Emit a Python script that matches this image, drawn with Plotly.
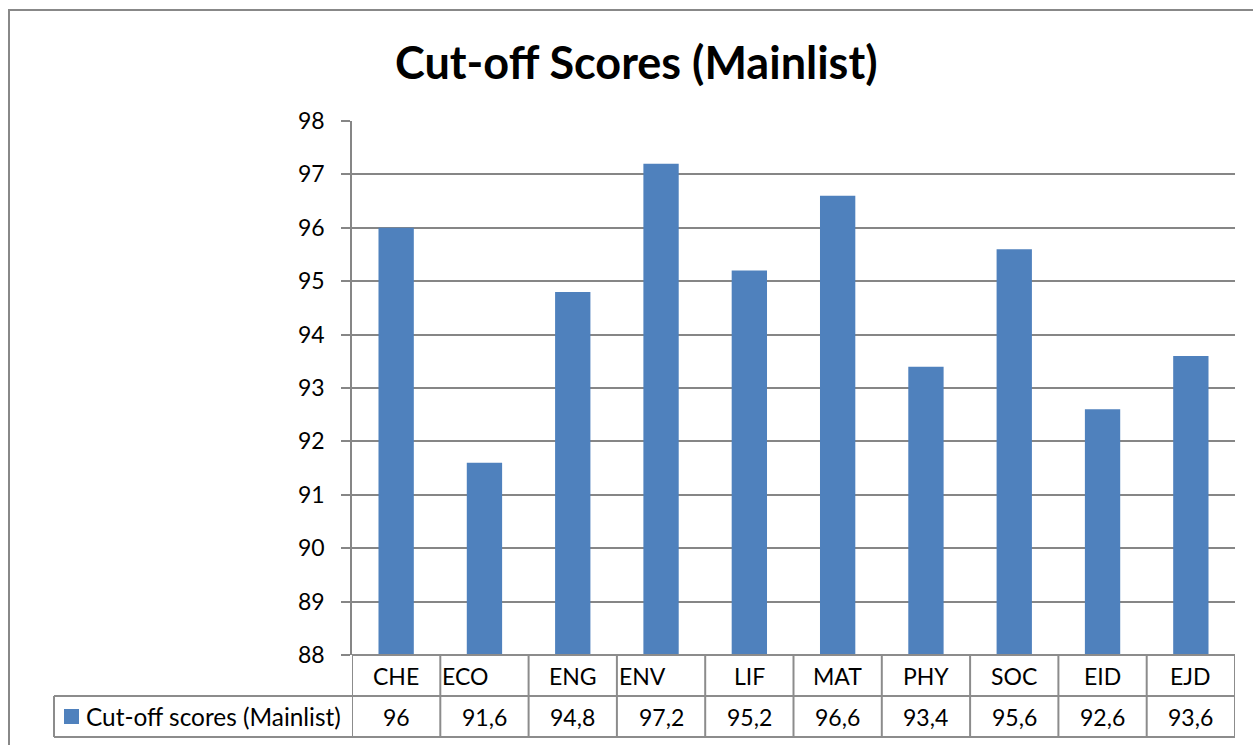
import plotly.graph_objects as go

categories = ["CHE", "ECO", "ENG", "ENV", "LIF", "MAT", "PHY", "SOC", "EID", "EJD"]
scores = [96, 91.6, 94.8, 97.2, 95.2, 96.6, 93.4, 95.6, 92.6, 93.6]
series_name = "Cut-off scores (Mainlist)"
title_text = "Cut-off Scores (Mainlist)"
y_ticks = list(range(88, 99))

W, H = 1253, 745
BAR = "#4F81BD"
GRID = "#868686"
TBL = "#8C8C8C"
FONT = "Lato, Carlito, Calibri, sans-serif"

def py(p):
    return 1 - p / H

x_left, x_right = 352, 1235
y_top, y_axis = 121, 655
row1_bot, row2_bot = 696, 737
tbl_left = 54

fig = go.Figure()
fig.add_trace(go.Bar(x=categories, y=scores, marker=dict(color=BAR, line=dict(width=0)),
                     width=0.4, name=series_name, showlegend=False))

shapes = []
# outer chart border
shapes.append(dict(type="rect", xref="paper", yref="paper", x0=9 / W, x1=1.02, y0=-0.05, y1=py(10),
                   line=dict(color="#888888", width=2), fillcolor="rgba(0,0,0,0)", layer="below"))
# table horizontal lines
shapes.append(dict(type="line", xref="paper", yref="paper", x0=x_left / W, x1=x_right / W,
                   y0=py(y_axis), y1=py(y_axis), line=dict(color=TBL, width=2)))
for yy in (row1_bot, row2_bot):
    shapes.append(dict(type="line", xref="paper", yref="paper", x0=tbl_left / W, x1=x_right / W,
                       y0=py(yy), y1=py(yy), line=dict(color=TBL, width=2)))
# left border of value row
shapes.append(dict(type="line", xref="paper", yref="paper", x0=tbl_left / W, x1=tbl_left / W,
                   y0=py(row1_bot), y1=py(row2_bot), line=dict(color=TBL, width=2)))
# vertical cell separators at category boundaries
for i in range(len(categories) + 1):
    shapes.append(dict(type="line", xref="x", yref="paper", x0=i - 0.5, x1=i - 0.5,
                       y0=py(y_axis), y1=py(row2_bot), line=dict(color=TBL, width=2)))
# legend key square
shapes.append(dict(type="rect", xref="paper", yref="paper", x0=64 / W, x1=79 / W,
                   y0=py(724), y1=py(709), fillcolor=BAR, line=dict(width=0)))

annotations = []
left_aligned = {"ECO", "ENV"}
hdr_y = py((y_axis + row1_bot) / 2)
val_y = py((row1_bot + row2_bot) / 2)
for i, (c, v) in enumerate(zip(categories, scores)):
    if c in left_aligned:
        annotations.append(dict(x=i - 0.5, xref="x", y=hdr_y, yref="paper",
                                text=c, showarrow=False, xanchor="left", yanchor="middle", xshift=0,
                                font=dict(family=FONT, size=23, color="#000")))
    else:
        annotations.append(dict(x=i, xref="x", y=hdr_y, yref="paper",
                                text=c, showarrow=False, xanchor="center", yanchor="middle",
                                font=dict(family=FONT, size=23, color="#000")))
    label = (f"{v:g}").replace(".", ",")
    annotations.append(dict(x=i, xref="x", y=val_y, yref="paper",
                            text=label, showarrow=False, xanchor="center", yanchor="middle",
                            font=dict(family=FONT, size=23, color="#000")))
annotations.append(dict(x=84 / W, xref="paper", y=val_y, yref="paper",
                        text=series_name, showarrow=False, xanchor="left", yanchor="middle",
                        font=dict(family=FONT, size=24.4, color="#000")))
annotations.append(dict(x=636.5 / W, xref="paper", y=py(62), yref="paper", text=f"<b>{title_text}</b>",
                        showarrow=False, xanchor="center", yanchor="middle",
                        font=dict(family=FONT, size=45, color="#000")))

fig.update_layout(
    template="none",
    width=W, height=H, margin=dict(l=0, r=0, t=0, b=0, pad=0, autoexpand=False),
    paper_bgcolor="white", plot_bgcolor="white",
    bargap=0.6,
    xaxis=dict(domain=[x_left / W, x_right / W], range=[-0.5, len(categories) - 0.5], automargin=False,
               showticklabels=False, showgrid=False, zeroline=False, showline=False, ticks=""),
    yaxis=dict(domain=[py(y_axis), py(y_top)], range=[88, 98], tickvals=y_ticks, automargin=False,
               showgrid=True, gridcolor=GRID, gridwidth=1.5, zeroline=False,
               showline=True, linecolor=GRID, linewidth=1.5,
               ticks="outside", ticklen=9, tickcolor=GRID, tickwidth=1.5,
               ticklabelstandoff=12,
               tickfont=dict(family=FONT, size=23, color="#000")),
    shapes=shapes, annotations=annotations,
    font=dict(family=FONT),
)

post = "document.body.style.margin='0';document.body.style.overflow='hidden';document.documentElement.style.overflow='hidden';"
fig.write_html("out.html", post_script=post, config={"displayModeBar": False})
